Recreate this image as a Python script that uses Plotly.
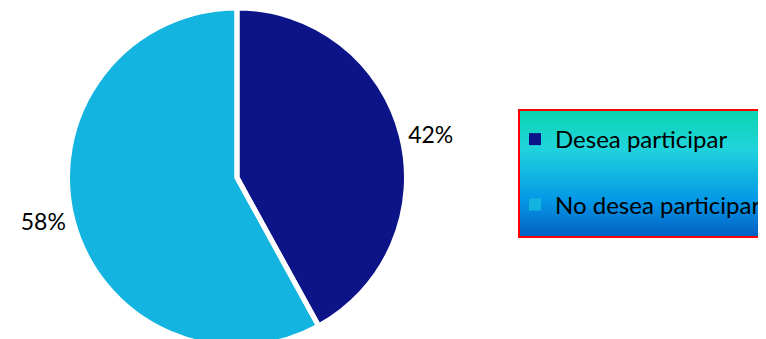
import base64
import plotly.graph_objects as go

categories = ["Desea participar", "No desea participar"]
values = [42, 58]
slice_colors = ["#0c1488", "#14b4e0"]

FONT = "Lato"

# legend labels: first entry carries an extra blank line so the entries are spaced apart
legend_labels = [categories[0] + "<br> ", categories[1]]

# gradient background for the legend box (styling only)
svg = ('<svg xmlns="http://www.w3.org/2000/svg" width="100" height="100" preserveAspectRatio="none">'
       '<defs><linearGradient id="g" x1="0" y1="0" x2="0" y2="1">'
       '<stop offset="0" stop-color="#0ad4ae"/><stop offset="0.3" stop-color="#20d4dc"/>'
       '<stop offset="0.72" stop-color="#0496e6"/><stop offset="1" stop-color="#0460c2"/>'
       '</linearGradient></defs><rect width="100" height="100" fill="url(#g)"/></svg>')
svg_uri = "data:image/svg+xml;base64," + base64.b64encode(svg.encode()).decode()

W, H = 766, 339
OFF = 8  # page body margin

dom = dict(x=[0.077, 0.5209], y=[0, 1])

fig = go.Figure()
# coloured slices (also feed the legend)
fig.add_trace(go.Pie(
    labels=legend_labels,
    values=values,
    sort=False,
    direction="clockwise",
    rotation=0,
    marker=dict(colors=slice_colors, line=dict(width=0)),
    texttemplate="%{percent:.0%}",
    textposition="outside",
    textfont=dict(family=FONT, size=23, color="black"),
    hovertemplate="%{customdata}: %{percent:.0%}<extra></extra>",
    customdata=categories,
    domain=dom,
))
# white separators between the slices
fig.add_trace(go.Pie(
    labels=legend_labels,
    values=values,
    sort=False,
    direction="clockwise",
    rotation=0,
    marker=dict(colors=["rgba(0,0,0,0)"] * len(values), line=dict(color="white", width=5)),
    textinfo="none",
    hoverinfo="skip",
    showlegend=False,
    domain=dom,
))

box_l, box_t, box_b = 519 - OFF, 110 - OFF, 237 - OFF

fig.update_layout(
    width=W, height=H,
    margin=dict(l=0, r=0, t=0, b=0, autoexpand=False),
    paper_bgcolor="white",
    plot_bgcolor="white",
    showlegend=True,
    legend=dict(
        x=(515 - OFF) / W, y=1 - (117 - OFF) / H, xanchor="left", yanchor="top",
        bgcolor="rgba(0,0,0,0)",
        borderwidth=0,
        valign="top",
        font=dict(family=FONT, size=24, color="black"),
    ),
    images=[dict(
        source=svg_uri, xref="paper", yref="paper",
        x=box_l / W, y=1 - box_t / H, sizex=0.36, sizey=(box_b - box_t) / H,
        xanchor="left", yanchor="top", sizing="stretch", layer="below",
    )],
    shapes=[dict(
        type="rect", xref="paper", yref="paper",
        x0=box_l / W, x1=1.05, y0=1 - box_b / H, y1=1 - box_t / H,
        line=dict(color="#ff0000", width=2), fillcolor="rgba(0,0,0,0)",
        layer="above",
    )],
)

fig.write_html("out.html")
